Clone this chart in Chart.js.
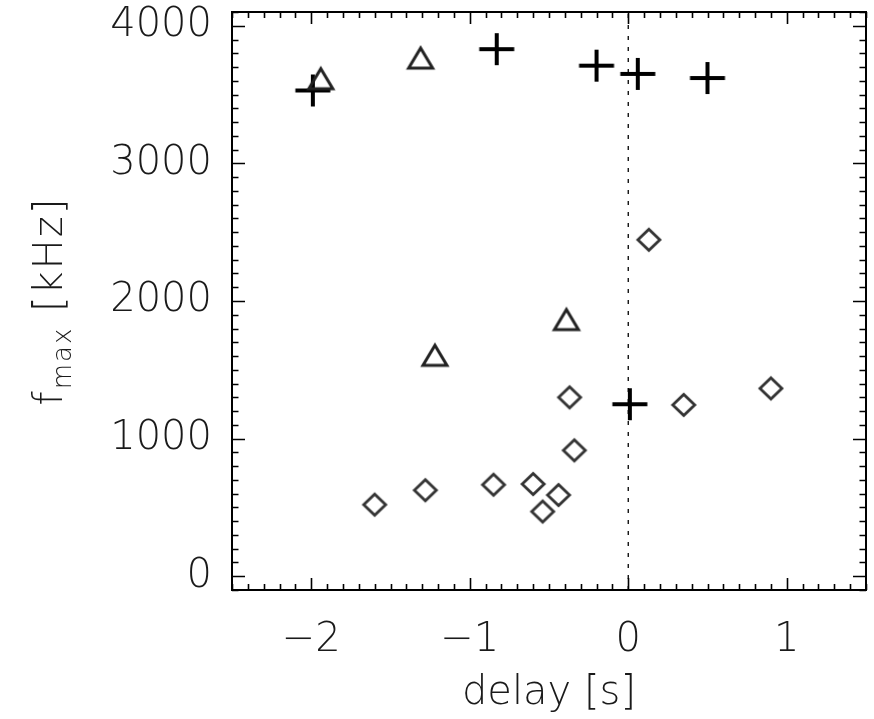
<!DOCTYPE html>
<html>
<head>
<meta charset="utf-8">
<script src="https://cdn.jsdelivr.net/npm/chart.js@4/dist/chart.umd.min.js"></script>
<style>
  html, body { margin: 0; padding: 0; background: #fff; overflow: hidden; }
  canvas { display: block; }
</style>
</head>
<body>
<canvas id="c" width="874" height="719"></canvas>
<script>
// Peak frequency versus delay, one array pair per event class
const plusDelay = [-1.99, -0.83, -0.20, 0.06, 0.50, 0.01];
const plusFmax  = [3530, 3830, 3710, 3650, 3620, 1250];

const triDelay = [-1.94, -1.31, -1.22, -0.39];
const triFmax  = [3615, 3765, 1605, 1865];

const diaDelay = [-1.60, -1.28, -0.85, -0.60, -0.54, -0.44, -0.37, -0.34, 0.13, 0.35, 0.90];
const diaFmax  = [520, 625, 665, 670, 470, 590, 1300, 915, 2445, 1245, 1365];

// axis labelling
const xTickValues = [-2, -1, 0, 1];
const yTickValues = [0, 1000, 2000, 3000, 4000];

// dotted reference line at zero delay
const zeroDelay = [0, 0];
const zeroSpan  = [-100, 4100];

const FONT_FAMILY = '"DejaVu Sans", sans-serif';
const FONT_WEIGHT = 200;
const TEXT_COLOR = '#1a1a1a';

// where the plot box sits on the page
const BOX = { left: 232, top: 12, right: 866, bottom: 590 };

function pairs(xs, ys) { return xs.map((x, i) => ({ x: x, y: ys[i] })); }

// marker sprites
function makeMarker(w, h, draw) {
  const c = document.createElement('canvas');
  c.width = w; c.height = h;
  const g = c.getContext('2d');
  draw(g, w / 2, h / 2);
  return c;
}
const plusMarker = makeMarker(40, 40, (g, cx, cy) => {
  g.strokeStyle = '#000'; g.lineWidth = 4; g.lineCap = 'butt';
  g.beginPath();
  g.moveTo(cx - 17.5, cy); g.lineTo(cx + 17.5, cy);
  g.moveTo(cx, cy - 16); g.lineTo(cx, cy + 16);
  g.stroke();
});
const triMarker = makeMarker(34, 30, (g, cx, cy) => {
  g.strokeStyle = '#222'; g.lineWidth = 3; g.lineJoin = 'miter';
  g.beginPath();
  g.moveTo(cx - 12, cy + 10); g.lineTo(cx, cy - 10); g.lineTo(cx + 12, cy + 10);
  g.closePath(); g.stroke();
});
const diaMarker = makeMarker(30, 30, (g, cx, cy) => {
  g.strokeStyle = '#333'; g.lineWidth = 2.8; g.lineJoin = 'miter';
  g.beginPath();
  g.moveTo(cx - 11, cy); g.lineTo(cx, cy - 10.5); g.lineTo(cx + 11, cy); g.lineTo(cx, cy + 10.5);
  g.closePath(); g.stroke();
});

// fixed axis thickness, and no extra room reserved for overhanging labels
const NO_PAD = { left: 0, top: 0, right: 0, bottom: 0 };
function fixBox(size, key) {
  return s => {
    s[key] = size;
    s.paddingTop = 0; s.paddingBottom = 0; s.paddingLeft = 0; s.paddingRight = 0;
    if (s._margins) Object.assign(s._margins, NO_PAD);
    s.getPadding = () => Object.assign({}, NO_PAD);
  };
}

// inward ticks on all four sides, the box frame and the y title
const framePlugin = {
  id: 'frame',
  afterDraw(chart) {
    const ctx = chart.ctx, a = chart.chartArea;
    const xs = chart.scales.x, ys = chart.scales.y;
    ctx.save();
    ctx.strokeStyle = '#000';
    ctx.lineWidth = 1.6;
    ctx.beginPath();
    for (let i = 0; i <= 40; i++) {
      const v = xs.min + i * 0.1;
      const major = Math.abs(v - Math.round(v)) < 1e-6;
      const len = major ? 12 : 6;
      const px = Math.round(xs.getPixelForValue(v)) + 0.5;
      ctx.moveTo(px, a.bottom); ctx.lineTo(px, a.bottom - len);
      ctx.moveTo(px, a.top); ctx.lineTo(px, a.top + len);
    }
    for (let i = 0; i <= 42; i++) {
      const v = ys.min + i * 100;
      const major = Math.abs(v % 1000) < 1e-6;
      const len = major ? 13 : 6.5;
      const py = Math.round(ys.getPixelForValue(v)) + 0.5;
      ctx.moveTo(a.left, py); ctx.lineTo(a.left + len, py);
      ctx.moveTo(a.right, py); ctx.lineTo(a.right - len, py);
    }
    ctx.stroke();
    ctx.lineWidth = 2;
    ctx.strokeRect(a.left, a.top, a.right - a.left, a.bottom - a.top);

    // y-axis title with subscript
    const cy = (a.top + a.bottom) / 2;
    const big = FONT_WEIGHT + ' 40px ' + FONT_FAMILY;
    const small = FONT_WEIGHT + ' 26px ' + FONT_FAMILY;
    const parts = [
      { t: 'f', f: big, dy: 0 },
      { t: 'max', f: small, dy: 9 },
      { t: ' [kHz]', f: big, dy: 0 }
    ];
    let total = 0;
    ctx.letterSpacing = '2px';
    parts.forEach(p => { ctx.font = p.f; p.w = ctx.measureText(p.t).width; total += p.w; });
    ctx.fillStyle = TEXT_COLOR;
    ctx.textBaseline = 'alphabetic';
    ctx.textAlign = 'left';
    ctx.translate(62, cy);
    ctx.rotate(-Math.PI / 2);
    let x = -total / 2;
    parts.forEach(p => { ctx.font = p.f; ctx.fillText(p.t, x, p.dy); x += p.w; });
    ctx.restore();
  }
};

const labelFont = { family: FONT_FAMILY, size: 40, weight: FONT_WEIGHT };

new Chart(document.getElementById('c'), {
  type: 'scatter',
  data: {
    datasets: [
      {
        type: 'line',
        data: pairs(zeroDelay, zeroSpan),
        borderColor: '#000', borderWidth: 1.3, borderDash: [4, 7],
        pointRadius: 0, fill: false
      },
      { data: pairs(diaDelay, diaFmax), pointStyle: diaMarker, pointRadius: 12 },
      { data: pairs(triDelay, triFmax), pointStyle: triMarker, pointRadius: 12 },
      { data: pairs(plusDelay, plusFmax), pointStyle: plusMarker, pointRadius: 18 }
    ]
  },
  options: {
    responsive: false,
    animation: false,
    events: [],
    layout: {
      autoPadding: false,
      padding: { top: BOX.top, right: 874 - BOX.right, left: 0, bottom: 0 }
    },
    plugins: { legend: { display: false }, tooltip: { enabled: false } },
    scales: {
      x: {
        type: 'linear', min: -2.5, max: 1.5,
        afterBuildTicks: s => { s.ticks = xTickValues.map(v => ({ value: v })); },
        afterFit: fixBox(719 - BOX.bottom, 'height'),
        grid: { display: false, drawTicks: false },
        border: { display: false },
        ticks: {
          padding: 27, color: TEXT_COLOR, font: labelFont, maxRotation: 0, autoSkip: false,
          callback: v => (v < 0 ? '\u2212' : '') + Math.abs(v)
        },
        title: {
          display: true, text: 'delay [s]', color: TEXT_COLOR, font: labelFont,
          padding: { top: 0, bottom: 1 }
        }
      },
      y: {
        type: 'linear', min: -100, max: 4100,
        afterBuildTicks: s => { s.ticks = yTickValues.map(v => ({ value: v })); },
        afterFit: fixBox(BOX.left, 'width'),
        grid: { display: false, drawTicks: false },
        border: { display: false },
        ticks: { padding: 20, color: TEXT_COLOR, font: labelFont, autoSkip: false, callback: v => String(v) }
      }
    }
  },
  plugins: [framePlugin]
});
</script>
</body>
</html>
